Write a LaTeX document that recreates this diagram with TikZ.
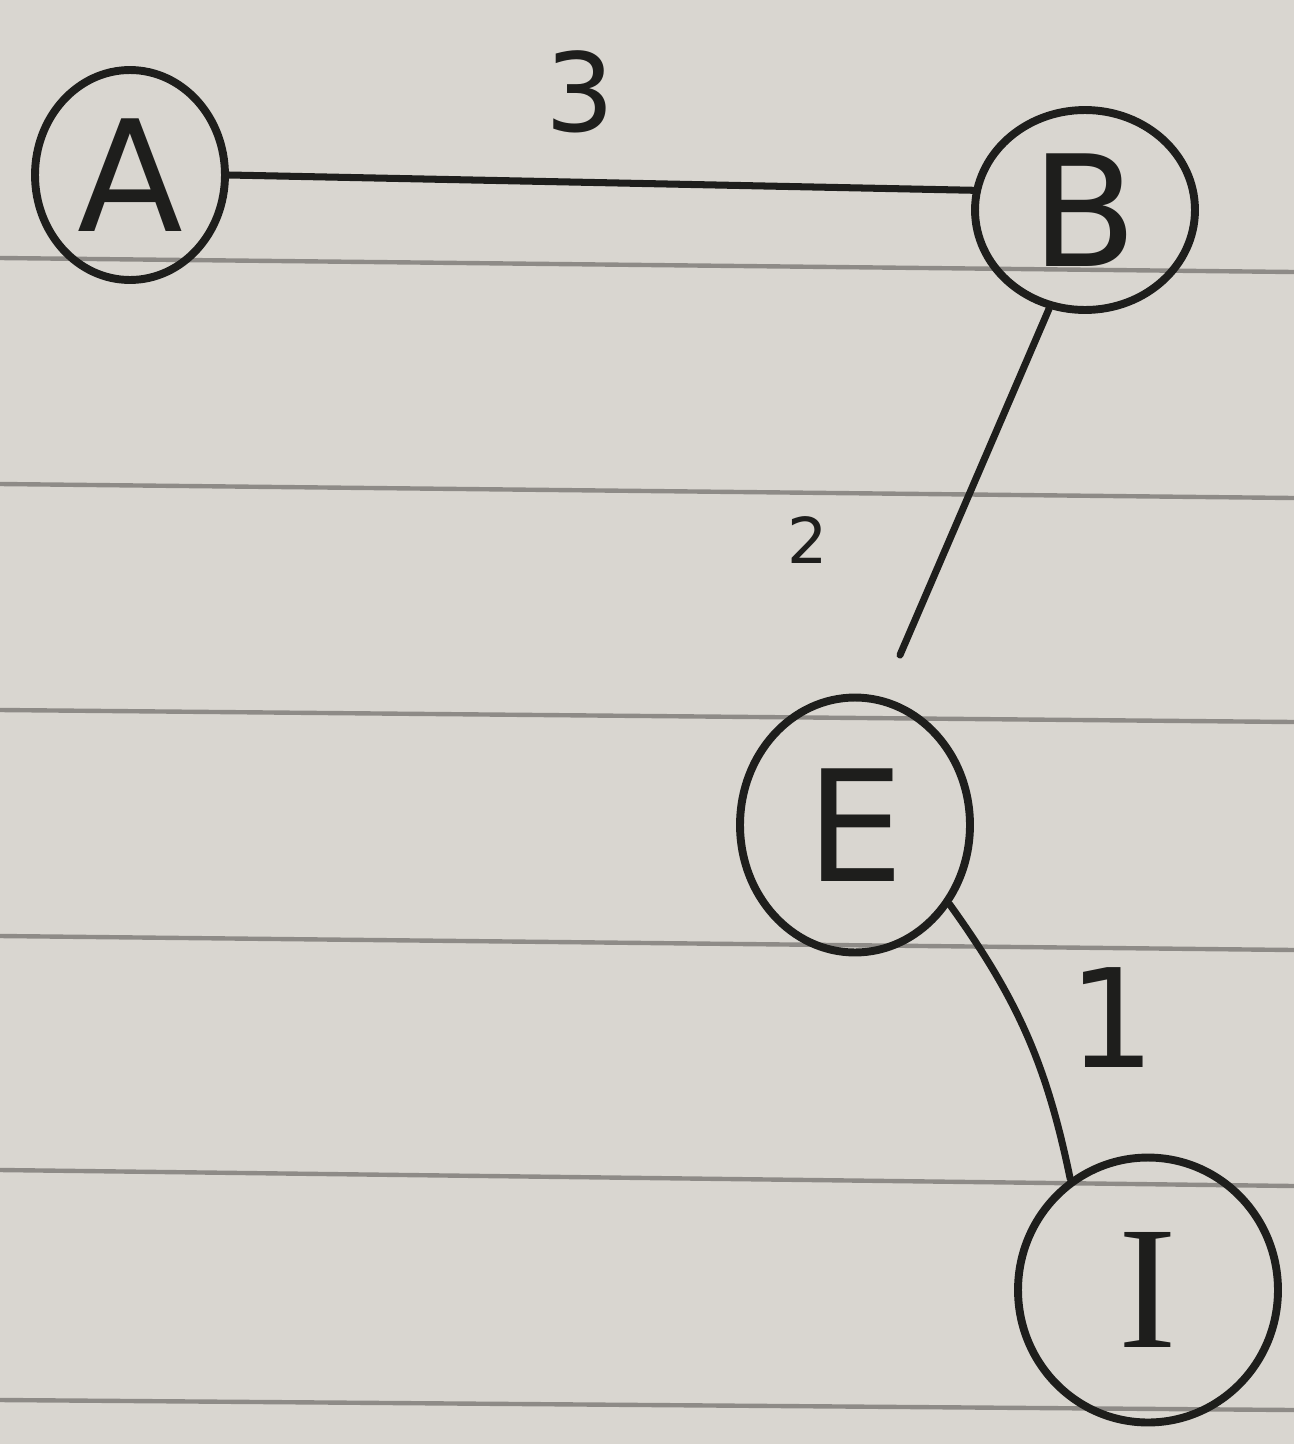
\documentclass[tikz,border=0pt]{standalone}
\usepackage{fontspec}
\setmainfont{DejaVu Sans}
\newfontfamily\serifletter{Liberation Serif}
\usetikzlibrary{shapes.geometric}
\definecolor{paper}{HTML}{D9D6D0}
\definecolor{rule}{HTML}{8E8B87}
\definecolor{ink}{HTML}{1E1E1C}
\tikzset{
  vert/.style={draw=ink, ellipse, line width=4.5pt, inner sep=0pt, text=ink,
    font=\fontsize{88}{88}\selectfont},
  edgeline/.style={draw=ink, line width=4pt, line cap=round},
  wlabel/.style={text=ink, inner sep=0pt},
  ruled/.style={draw=rule, line width=2.5pt}
}
\begin{document}
\begin{tikzpicture}[x=0.02cm,y=-0.02cm]
\fill[paper] (0,0) rectangle (1294,1444);
\useasboundingbox (0,0) rectangle (1294,1444);
% ruled lines
\draw[ruled] (0,258) -- (1294,272);
\draw[ruled] (0,484) -- (1294,498);
\draw[ruled] (0,710) -- (1294,722);
\draw[ruled] (0,936) -- (1294,950);
\draw[ruled] (0,1170) -- (1294,1186);
\draw[ruled] (0,1400) -- (1294,1410);
% vertices
\node[vert, minimum width=3.8cm, minimum height=4.2cm] (A) at (130,175) {A};
\node[vert, minimum width=4.4cm, minimum height=4.0cm] (B) at (1085,210) {B};
\node[vert, minimum width=4.6cm, minimum height=5.1cm] (E) at (855,825) {E};
\node[vert, minimum width=5.2cm, minimum height=5.3cm, font=\serifletter\fontsize{100}{100}\selectfont] (I) at (1148,1290) {I};
\coordinate (Eend) at (900,655);
% edges
\draw[edgeline] (A.east) -- (B.170);
\draw[edgeline] (B.-110) -- (Eend);
\draw[edgeline] (E.-40) to[bend left=12] (I.125);
% weights
\node[wlabel, font=\fontsize{62}{62}\selectfont] (w3) at (580,92) {3};
\node[wlabel, font=\fontsize{36}{36}\selectfont] (w2) at (808,540) {2};
\node[wlabel, font=\fontsize{78}{78}\selectfont] (w1) at (1112,1018) {1};
\end{tikzpicture}
\end{document}
